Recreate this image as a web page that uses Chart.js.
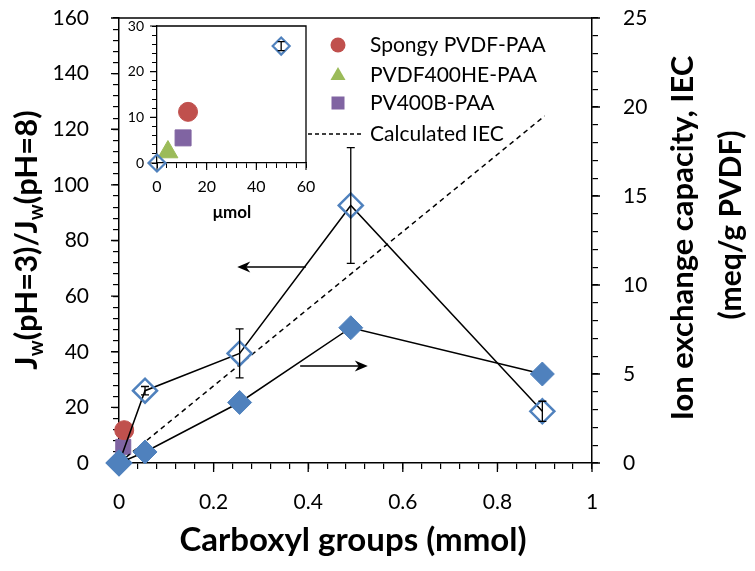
<!DOCTYPE html>
<html>
<head>
<meta charset="utf-8">
<script src="https://cdn.jsdelivr.net/npm/chart.js@4"></script>
<style>
body { margin: 0; background: #fff; }
#wrap { position: relative; width: 755px; height: 571px; }
#main { position: absolute; left: 0; top: 0; }
#inset { position: absolute; left: 100px; top: 10px; }
</style>
</head>
<body>
<div id="wrap">
<canvas id="main" width="755" height="571"></canvas>
<canvas id="inset" width="230" height="215"></canvas>
</div>
<script>
// main chart data (x in mmol carboxyl groups)
var carboxyl = [0, 0.055, 0.255, 0.49, 0.895];
var fluxRatio = [0, 26, 39.4, 92.6, 18.6];
var fluxErr = [0, 1.5, 8.8, 20.8, 3.6];
var iec = [0, 0.62, 3.4, 7.6, 5.0];
var calcX = [0, 0.9];
var calcIec = [0, 19.5];
var spongyX = [0.011], spongyY = [11.8];
var he400X = [0.004], he400Y = [2];
var b400X = [0.009], b400Y = [5.8];

// inset data (x in umol)
var insetUmol = [0, 50];
var insetRatio = [0, 25.6];
var insetErr = [0, 1];
var insetSpongyX = [12.5], insetSpongyY = [11.2];
var insetHe400X = [4.4], insetHe400Y = [2.4];
var insetB400X = [10.5], insetB400Y = [5.5];

var seriesNames = ['Spongy PVDF-PAA', 'PVDF400HE-PAA', 'PV400B-PAA', 'Calculated IEC'];
var xMajor = [0, 0.2, 0.4, 0.6, 0.8, 1];
var leftMajor = [0, 20, 40, 60, 80, 100, 120, 140, 160];
var rightMajor = [0, 5, 10, 15, 20, 25];
var insetXMajor = [0, 20, 40, 60];
var insetYMajor = [0, 10, 20, 30];

// arrows: [tail x, head x, y on left axis]
var leftArrow = [0.395, 0.25, 70.5];
var rightArrow = [0.383, 0.526, 34.9];

var blue = '#4F81BD', red = '#C0504D', green = '#9BBB59', purple = '#8064A2';
var FONT = 'Lato';

function pts(xs, ys) {
    return xs.map(function (x, i) { return { x: x, y: ys[i] }; });
}

function isMajor(list, v) {
    return list.some(function (m) { return Math.abs(m - v) < 1e-6; });
}

// fixed axis size, no extra label overflow padding
function fixSize(prop, size) {
    return function (s) {
        s[prop] = size;
        s.paddingTop = 0; s.paddingBottom = 0; s.paddingLeft = 0; s.paddingRight = 0;
    };
}

function axisOpts(extra) {
    var o = {
        type: 'linear',
        border: { display: true, color: '#000', width: 1.5 },
        grid: { drawOnChartArea: false, drawTicks: true, tickLength: 6, color: '#000', lineWidth: 1.2 },
        ticks: { maxTicksLimit: 1000, autoSkip: false, maxRotation: 0, color: '#000', font: { family: FONT, size: 21 } }
    };
    for (var k in extra) {
        if (k === 'ticks' || k === 'grid') Object.assign(o[k], extra[k]);
        else o[k] = extra[k];
    }
    return o;
}

// longer marks for labelled ticks
function majorTicks(chart, id, majors, len, width) {
    var s = chart.scales[id], ctx = chart.ctx;
    ctx.save();
    ctx.strokeStyle = '#000';
    ctx.lineWidth = width;
    ctx.beginPath();
    majors.forEach(function (v) {
        var p = s.getPixelForValue(v);
        if (s.position === 'bottom') { ctx.moveTo(p, s.top); ctx.lineTo(p, s.top + len); }
        else if (s.position === 'left') { ctx.moveTo(s.right, p); ctx.lineTo(s.right - len, p); }
        else { ctx.moveTo(s.left, p); ctx.lineTo(s.left + len, p); }
    });
    ctx.stroke();
    ctx.restore();
}

function drawParts(ctx, parts, cx, cy, angle, size) {
    ctx.save();
    ctx.translate(cx, cy);
    ctx.rotate(angle);
    var big = 'bold ' + size + 'px ' + FONT, small = 'bold ' + Math.round(size * 0.65) + 'px ' + FONT;
    var total = 0;
    parts.forEach(function (p) {
        ctx.font = p.sub ? small : big;
        p.w = ctx.measureText(p.t).width;
        total += p.w;
    });
    var x = -total / 2;
    ctx.textBaseline = 'middle';
    ctx.textAlign = 'left';
    ctx.fillStyle = '#000';
    parts.forEach(function (p) {
        ctx.font = p.sub ? small : big;
        ctx.fillText(p.t, x, p.sub ? size * 0.3 : 0);
        x += p.w;
    });
    ctx.restore();
}

function drawErrors(chart, dsIndex, errs, yId, cap) {
    var ctx = chart.ctx, meta = chart.getDatasetMeta(dsIndex), ys = chart.scales[yId];
    var data = chart.data.datasets[dsIndex].data;
    ctx.save();
    ctx.strokeStyle = '#000';
    ctx.lineWidth = 1.3;
    meta.data.forEach(function (el, i) {
        if (!errs[i]) return;
        var top = ys.getPixelForValue(data[i].y + errs[i]);
        var bot = ys.getPixelForValue(data[i].y - errs[i]);
        ctx.beginPath();
        ctx.moveTo(el.x, top); ctx.lineTo(el.x, bot);
        ctx.moveTo(el.x - cap, top); ctx.lineTo(el.x + cap, top);
        ctx.moveTo(el.x - cap, bot); ctx.lineTo(el.x + cap, bot);
        ctx.stroke();
    });
    ctx.restore();
}

function drawArrow(ctx, x1, x2, y) {
    var dir = x2 > x1 ? 1 : -1;
    ctx.beginPath();
    ctx.moveTo(x1, y); ctx.lineTo(x2 - dir * 6, y);
    ctx.stroke();
    ctx.beginPath();
    ctx.moveTo(x2, y);
    ctx.lineTo(x2 - dir * 13, y - 5.5);
    ctx.lineTo(x2 - dir * 9, y);
    ctx.lineTo(x2 - dir * 13, y + 5.5);
    ctx.closePath();
    ctx.fill();
}

var mainDecor = {
    id: 'mainDecor',
    beforeDatasetsDraw: function (chart) {
        majorTicks(chart, 'x', xMajor, 9, 1.3);
        majorTicks(chart, 'y', leftMajor, 8, 1.3);
        majorTicks(chart, 'y1', rightMajor, 8, 1.3);
    },
    afterDatasetsDraw: function (chart) {
        drawErrors(chart, 0, fluxErr, 'y', 4);
    },
    afterDraw: function (chart) {
        var ctx = chart.ctx, a = chart.chartArea, sx = chart.scales.x, sy = chart.scales.y;
        ctx.save();
        // top frame line
        ctx.strokeStyle = '#000';
        ctx.lineWidth = 1.5;
        ctx.beginPath();
        ctx.moveTo(a.left, a.top); ctx.lineTo(a.right, a.top);
        ctx.stroke();

        // arrows
        ctx.fillStyle = '#000';
        ctx.lineWidth = 1.5;
        drawArrow(ctx, sx.getPixelForValue(leftArrow[0]), sx.getPixelForValue(leftArrow[1]), sy.getPixelForValue(leftArrow[2]));
        drawArrow(ctx, sx.getPixelForValue(rightArrow[0]), sx.getPixelForValue(rightArrow[1]), sy.getPixelForValue(rightArrow[2]));

        // legend
        var lx = 338, tx = 370, rows = [45, 75, 103, 134];
        ctx.fillStyle = red;
        ctx.beginPath(); ctx.arc(lx, rows[0], 7.5, 0, Math.PI * 2); ctx.fill();
        ctx.fillStyle = green;
        ctx.beginPath(); ctx.moveTo(lx, rows[1] - 8); ctx.lineTo(lx + 7.5, rows[1] + 5); ctx.lineTo(lx - 7.5, rows[1] + 5); ctx.closePath(); ctx.fill();
        ctx.fillStyle = purple;
        ctx.fillRect(lx - 6.5, rows[2] - 6.5, 13, 13);
        ctx.strokeStyle = '#000';
        ctx.lineWidth = 1.3;
        ctx.setLineDash([4, 3]);
        ctx.beginPath(); ctx.moveTo(308, rows[3]); ctx.lineTo(364, rows[3]); ctx.stroke();
        ctx.setLineDash([]);
        ctx.fillStyle = '#000';
        ctx.font = '21px ' + FONT;
        ctx.textBaseline = 'middle';
        ctx.textAlign = 'left';
        seriesNames.forEach(function (n, i) { ctx.fillText(n, tx, rows[i]); });
        ctx.restore();

        // axis titles
        drawParts(ctx, [{ t: 'J' }, { t: 'w', sub: true }, { t: '(pH=3)/J' }, { t: 'w', sub: true }, { t: '(pH=8)' }], 27, 240, -Math.PI / 2, 31);
        drawParts(ctx, [{ t: 'Ion exchange capacity, IEC' }], 683, 238, -Math.PI / 2, 31);
        drawParts(ctx, [{ t: '(meq/g PVDF)' }], 731, 225, -Math.PI / 2, 30);
        drawParts(ctx, [{ t: 'Carboxyl groups (mmol)' }], 353, 540, 0, 33);
    }
};

new Chart(document.getElementById('main'), {
    type: 'line',
    data: {
        datasets: [
            { label: 'Jw ratio', data: pts(carboxyl, fluxRatio), yAxisID: 'y', borderColor: '#000', borderWidth: 1.5,
              pointStyle: 'rectRot', pointRadius: 12, pointBorderColor: blue, pointBackgroundColor: 'rgba(0,0,0,0)', pointBorderWidth: 2.5, order: 5, clip: false },
            { label: 'IEC', data: pts(carboxyl, iec), yAxisID: 'y1', borderColor: '#000', borderWidth: 1.5,
              pointStyle: 'rectRot', pointRadius: 12, pointBorderColor: blue, pointBackgroundColor: blue, pointBorderWidth: 1, order: 4, clip: false },
            { label: seriesNames[3], data: pts(calcX, calcIec), yAxisID: 'y1', borderColor: '#000', borderWidth: 1.5,
              borderDash: [5, 4], pointRadius: 0, order: 6, clip: false },
            { label: seriesNames[0], data: pts(spongyX, spongyY), yAxisID: 'y', showLine: false,
              pointStyle: 'circle', pointRadius: 9.5, pointBackgroundColor: red, pointBorderColor: red, order: 7, clip: false },
            { label: seriesNames[1], data: pts(he400X, he400Y), yAxisID: 'y', showLine: false,
              pointStyle: 'triangle', pointRadius: 9, pointBackgroundColor: green, pointBorderColor: green, order: 9, clip: false },
            { label: seriesNames[2], data: pts(b400X, b400Y), yAxisID: 'y', showLine: false,
              pointStyle: 'rect', pointRadius: 10.6, pointBackgroundColor: purple, pointBorderColor: purple, order: 8, clip: false }
        ]
    },
    options: {
        responsive: false,
        animation: false,
        events: [],
        layout: { padding: { top: 18, left: 0, right: 0, bottom: 0 } },
        plugins: { legend: { display: false }, tooltip: { enabled: false } },
        scales: {
            x: axisOpts({ position: 'bottom', min: 0, max: 1,
                afterFit: fixSize('height', 108),
                ticks: { stepSize: 0.04, padding: 21,
                    callback: function (v) { return isMajor(xMajor, v) ? String(Math.round(v * 10) / 10) : ''; } } }),
            y: axisOpts({ position: 'left', min: 0, max: 160,
                afterFit: fixSize('width', 119),
                ticks: { stepSize: 4, padding: 24,
                    callback: function (v) { return isMajor(leftMajor, v) ? String(v) : ''; } } }),
            y1: axisOpts({ position: 'right', min: 0, max: 25,
                afterFit: fixSize('width', 163),
                ticks: { stepSize: 1, padding: 25,
                    callback: function (v) { return isMajor(rightMajor, v) ? String(v) : ''; } } })
        }
    },
    plugins: [mainDecor]
});

var insetDecor = {
    id: 'insetDecor',
    beforeDatasetsDraw: function (chart) {
        majorTicks(chart, 'x', insetXMajor, 7, 1.1);
        majorTicks(chart, 'y', insetYMajor, 7, 1.1);
    },
    afterDatasetsDraw: function (chart) {
        drawErrors(chart, 0, insetErr, 'y', 3.5);
    },
    afterDraw: function (chart) {
        var ctx = chart.ctx, a = chart.chartArea;
        ctx.save();
        ctx.strokeStyle = '#000';
        ctx.lineWidth = 1.3;
        ctx.beginPath();
        ctx.moveTo(a.left, a.top); ctx.lineTo(a.right, a.top); ctx.lineTo(a.right, a.bottom);
        ctx.stroke();
        ctx.restore();
        drawParts(ctx, [{ t: '\u03bcmol' }], 132, 203, 0, 17);
    }
};

function insetAxis(extra) {
    var o = axisOpts(extra);
    o.border.width = 1.3;
    o.grid.tickLength = 5;
    o.grid.lineWidth = 1;
    return o;
}

new Chart(document.getElementById('inset'), {
    type: 'line',
    data: {
        datasets: [
            { label: 'Jw ratio', data: pts(insetUmol, insetRatio), yAxisID: 'y', showLine: false,
              pointStyle: 'rectRot', pointRadius: 8.5, pointBorderColor: blue, pointBackgroundColor: 'rgba(0,0,0,0)', pointBorderWidth: 2.2, order: 1, clip: false },
            { label: seriesNames[0], data: pts(insetSpongyX, insetSpongyY), yAxisID: 'y', showLine: false,
              pointStyle: 'circle', pointRadius: 9.5, pointBackgroundColor: red, pointBorderColor: red, order: 2, clip: false },
            { label: seriesNames[1], data: pts(insetHe400X, insetHe400Y), yAxisID: 'y', showLine: false,
              pointStyle: 'triangle', pointRadius: 11.5, pointBackgroundColor: green, pointBorderColor: green, order: 3, clip: false },
            { label: seriesNames[2], data: pts(insetB400X, insetB400Y), yAxisID: 'y', showLine: false,
              pointStyle: 'rect', pointRadius: 11.3, pointBackgroundColor: purple, pointBorderColor: purple, order: 4, clip: false }
        ]
    },
    options: {
        responsive: false,
        animation: false,
        events: [],
        layout: { padding: { top: 16, left: 0, right: 24, bottom: 0 } },
        plugins: { legend: { display: false }, tooltip: { enabled: false } },
        scales: {
            x: insetAxis({ position: 'bottom', min: 0, max: 60,
                afterFit: fixSize('height', 62),
                ticks: { stepSize: 4, padding: 9, font: { family: FONT, size: 16 },
                    callback: function (v) { return isMajor(insetXMajor, v) ? String(v) : ''; } } }),
            y: insetAxis({ position: 'left', min: 0, max: 30,
                afterFit: fixSize('width', 57),
                ticks: { stepSize: 2, padding: 8, font: { family: FONT, size: 14 },
                    callback: function (v) { return isMajor(insetYMajor, v) ? String(v) : ''; } } })
        }
    },
    plugins: [insetDecor]
});
</script>
</body>
</html>
